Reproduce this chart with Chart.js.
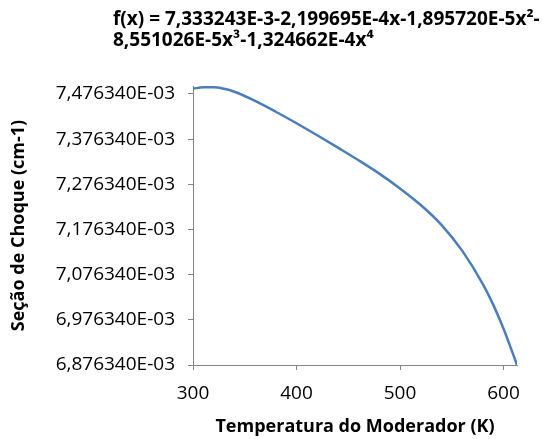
<!DOCTYPE html>
<html>
<head>
<meta charset="utf-8">
<script src="https://cdn.jsdelivr.net/npm/chart.js@4/dist/chart.umd.min.js"></script>
<style>
  html, body { margin: 0; padding: 0; background: #fff; }
  #wrap { width: 543px; height: 439px; }
</style>
</head>
<body>
<div id="wrap"><canvas id="sigmaChart"></canvas></div>
<script>
// moderator temperature (K) and cross section (cm-1)
var tempValues = [300, 310, 320, 330, 340, 360, 380, 400, 420, 440, 460, 480, 500, 520, 540, 560, 580, 590, 600, 605, 610, 613];
var sigmaValues = [7.4880e-3, 7.4912e-3, 7.4912e-3, 7.4878e-3, 7.4812e-3, 7.4610e-3, 7.4370e-3, 7.4115e-3,
                   7.3850e-3, 7.3575e-3, 7.3295e-3, 7.3000e-3, 7.2670e-3, 7.2305e-3, 7.1867e-3, 7.1295e-3,
                   7.0555e-3, 7.0100e-3, 6.9565e-3, 6.9265e-3, 6.8955e-3, 6.87634e-3];
var xTickValues = [300, 400, 500, 600];
var yTickValues = [6.87634e-3, 6.97634e-3, 7.07634e-3, 7.17634e-3, 7.27634e-3, 7.37634e-3, 7.47634e-3];
var titleLines = ['f(x) = 7,333243E-3-2,199695E-4x-1,895720E-5x\u00b2-', '8,551026E-5x\u00b3-1,324662E-4x\u2074'];

var axisGray = '#868686';
var fontFamily = "'Open Sans', sans-serif";

function fmtSci(v) {
  var parts = v.toExponential(6).split('e');
  var exp = parseInt(parts[1], 10);
  return parts[0].replace('.', ',') + 'E' + (exp < 0 ? '-' : '+') + String(Math.abs(exp)).padStart(2, '0');
}

// two-line equation title, left aligned
var equationTitle = {
  id: 'equationTitle',
  afterDraw: function (chart) {
    var ctx = chart.ctx;
    ctx.save();
    ctx.fillStyle = '#000';
    ctx.font = 'bold 19px ' + fontFamily;
    ctx.textBaseline = 'alphabetic';
    ctx.textAlign = 'left';
    ctx.fillText(titleLines[0], 113, 25);
    ctx.fillText(titleLines[1], 113, 46);
    ctx.restore();
  }
};

var points = tempValues.map(function (t, i) { return { x: t, y: sigmaValues[i] }; });

var ctxChart = document.getElementById('sigmaChart');
new Chart(ctxChart, {
  type: 'line',
  data: {
    datasets: [{
      data: points,
      borderColor: '#4A7EBB',
      borderWidth: 2.5,
      pointRadius: 0,
      fill: false,
      cubicInterpolationMode: 'monotone'
    }]
  },
  options: {
    responsive: true,
    maintainAspectRatio: false,
    animation: false,
    layout: { padding: { top: 86, right: 26, left: 0, bottom: 0 } },
    plugins: {
      legend: { display: false },
      tooltip: { enabled: false }
    },
    scales: {
      x: {
        type: 'linear',
        min: 300,
        max: 613,
        afterBuildTicks: function (scale) {
          scale.ticks = xTickValues.map(function (v) { return { value: v }; });
        },
        afterFit: function (scale) { scale.height = 74; },
        ticks: {
          color: '#000',
          font: { family: fontFamily, size: 19 },
          padding: 12,
          maxRotation: 0,
          callback: function (v) { return String(v); }
        },
        grid: { drawOnChartArea: false, drawTicks: true, tickLength: 5, color: axisGray },
        border: { color: axisGray, width: 1 },
        title: {
          display: true,
          text: 'Temperatura do Moderador (K)',
          color: '#000',
          font: { family: fontFamily, size: 18, weight: 'bold' },
          padding: { top: 0, bottom: 1 }
        }
      },
      y: {
        type: 'linear',
        min: 6.87634e-3,
        max: 7.4940e-3,
        afterBuildTicks: function (scale) {
          scale.ticks = yTickValues.map(function (v) { return { value: v }; });
        },
        afterFit: function (scale) { scale.width = 193; },
        ticks: {
          color: '#000',
          font: { family: fontFamily, size: 19 },
          padding: 13,
          callback: function (v) { return fmtSci(v); }
        },
        grid: { drawOnChartArea: false, drawTicks: true, tickLength: 5, color: axisGray },
        border: { color: axisGray, width: 1 },
        title: {
          display: true,
          text: 'Seção de Choque (cm-1)',
          color: '#000',
          font: { family: fontFamily, size: 18, weight: 'bold' },
          padding: { top: 8, bottom: 0 }
        }
      }
    }
  },
  plugins: [equationTitle]
});
</script>
</body>
</html>
